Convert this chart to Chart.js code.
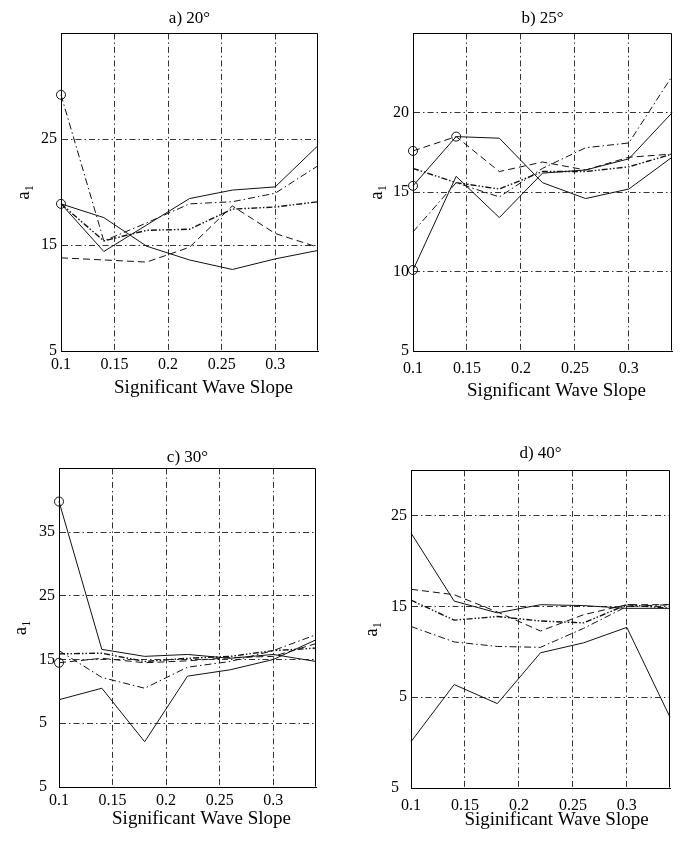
<!DOCTYPE html>
<html>
<head>
<meta charset="utf-8">
<script src="https://cdn.jsdelivr.net/npm/chart.js@4.4.1/dist/chart.umd.min.js"></script>
<style>
    html, body { margin: 0; padding: 0; background: #fff; }
    #wrap { position: relative; width: 683px; height: 842px; }
    .panel { position: absolute; width: 341px; height: 421px; }
</style>
</head>
<body>
<div id="wrap">
    <div class="panel" style="left:0;top:0"><canvas id="chartA" width="341" height="421"></canvas></div>
    <div class="panel" style="left:341px;top:0"><canvas id="chartB" width="341" height="421"></canvas></div>
    <div class="panel" style="left:0;top:421px"><canvas id="chartC" width="341" height="421"></canvas></div>
    <div class="panel" style="left:341px;top:421px"><canvas id="chartD" width="341" height="421"></canvas></div>
</div>
<script>
// x positions shared by every panel
const slopes = [0.1, 0.14, 0.18, 0.22, 0.26, 0.3, 0.34];
const xTicks = [0.1, 0.15, 0.2, 0.25, 0.3];
const xTickLabels = ['0.1', '0.15', '0.2', '0.25', '0.3'];

// a) 20 deg
const a20Solid1 = [18.9, 17.6, 14.9, 13.6, 12.7, 13.7, 14.5];
const a20Solid2 = [18.9, 14.4, 16.9, 19.4, 20.2, 20.5, 24.4];
const a20Dashed = [13.8, 13.6, 13.4, 14.8, 18.7, 16.1, 14.8];
const a20DashDot = [29.2, 15.4, 17.1, 18.9, 19.1, 19.9, 22.5];
const a20DashDot2 = [18.9, 15.4, 16.4, 16.5, 18.4, 18.6, 19.1];
const a20YTicks = [5, 15, 25];
const a20YTickLabels = ['5', '15', '25'];

// b) 25 deg
const b25Solid1 = [10.1, 16.0, 13.4, 16.2, 16.4, 17.1, 20.0];
const b25Solid2 = [15.4, 18.5, 18.4, 15.6, 14.6, 15.2, 17.2];
const b25Dashed = [17.6, 18.5, 16.3, 16.9, 16.4, 17.2, 17.4];
const b25DashDot = [12.5, 15.6, 14.7, 16.5, 17.8, 18.1, 22.3];
const b25DashDot2 = [16.5, 15.6, 15.2, 16.3, 16.3, 16.6, 17.4];
const b25YTicks = [5, 10, 15, 20];
const b25YTickLabels = ['5', '10', '15', '20'];

// c) 30 deg (the bottom tick is printed as "5", its minus sign is lost in the original)
const c30Solid1 = [39.8, 16.6, 15.5, 15.8, 15.2, 15.8, 14.7];
const c30Solid2 = [8.7, 10.5, 2.1, 12.4, 13.4, 15.0, 18.1];
const c30Dashed = [14.5, 15.2, 14.5, 14.8, 15.3, 15.5, 17.5];
const c30DashDot = [16.4, 12.2, 10.5, 13.8, 14.7, 16.4, 18.9];
const c30DashDot2 = [15.9, 16.0, 14.7, 15.2, 15.5, 16.4, 16.8];
const c30YTicks = [-5, 5, 15, 25, 35];
const c30YTickLabels = ['5\u2002', '5\u2002', '15', '25', '35'];

// d) 40 deg
const d40Solid1 = [23.1, 15.6, 14.3, 15.2, 15.1, 14.8, 14.8];
const d40Solid2 = [0.1, 6.4, 4.3, 9.9, 11.0, 12.7, 2.8];
const d40Dashed = [16.9, 16.3, 14.4, 12.3, 14.1, 15.2, 15.2];
const d40DashDot = [12.8, 11.1, 10.6, 10.5, 12.6, 15.0, 15.2];
const d40DashDot2 = [15.7, 13.5, 13.9, 13.4, 13.2, 15.2, 14.8];
const d40YTicks = [-5, 5, 15, 25];
const d40YTickLabels = ['5\u2002', '5', '15', '25'];

const serif = '"Liberation Serif", "Times New Roman", serif';

const lineStyles = {
    solid: { dash: [], width: 1 },
    dashed: { dash: [7, 4], width: 1 },
    dashdot: { dash: [7, 3, 1.5, 3], width: 1 },
    dashdot2: { dash: [6, 2, 1.5, 2, 1.5, 2], width: 1.4 },
};

// x label under the plot, a bit right of centre like the original
const xLabelPlugin = {
    id: 'xLabel',
    afterDraw(chart, args, opts) {
        const { ctx, chartArea } = chart;
        ctx.save();
        ctx.font = '19px ' + serif;
        ctx.fillStyle = '#000';
        ctx.textAlign = 'center';
        ctx.textBaseline = 'middle';
        ctx.fillText(opts.text, (chartArea.left + chartArea.right) / 2 + opts.dx, chartArea.bottom + opts.dy);
        ctx.restore();
    }
};

// top and right edges of the box
const framePlugin = {
    id: 'frame',
    afterDraw(chart) {
        const { ctx, chartArea } = chart;
        const l = Math.round(chartArea.left) + 0.5, r = Math.round(chartArea.right) - 0.5;
        const t = Math.round(chartArea.top) + 0.5, b = Math.round(chartArea.bottom) - 0.5;
        ctx.save();
        ctx.strokeStyle = '#000';
        ctx.lineWidth = 1;
        ctx.beginPath();
        ctx.moveTo(l, t);
        ctx.lineTo(r, t);
        ctx.lineTo(r, b);
        ctx.stroke();
        ctx.restore();
    }
};

window.panel = (id, p) => {
    const datasets = p.series.map(s => {
        const st = lineStyles[s.style];
        const marks = s.marks || [];
        return {
            data: slopes.map((x, i) => ({ x: x, y: s.values[i] })),
            borderColor: '#111',
            borderWidth: st.width,
            borderDash: st.dash,
            fill: false,
            tension: 0,
            clip: false,
            pointStyle: 'circle',
            pointRadius: slopes.map((x, i) => marks.includes(i) ? 4.5 : 0),
            pointBorderWidth: 1,
            pointBorderColor: '#111',
            pointBackgroundColor: 'rgba(0,0,0,0)',
        };
    });

    new Chart(document.getElementById(id).getContext('2d'), {
        type: 'line',
        data: { datasets: datasets },
        options: {
            responsive: false,
            devicePixelRatio: 1,
            animation: false,
            layout: { padding: { left: 0, right: p.right, top: 0, bottom: 0 } },
            plugins: {
                legend: { display: false },
                tooltip: { enabled: false },
                title: {
                    display: true,
                    text: p.title,
                    fullSize: false,
                    color: '#000',
                    font: { family: serif, size: 17, weight: 'normal' },
                    padding: { top: p.titleTop, bottom: p.titleBottom },
                },
                xLabel: { text: p.xLabel, dx: p.xLabelDx, dy: p.xLabelDy },
            },
            scales: {
                x: {
                    type: 'linear',
                    min: 0.1,
                    max: 0.34,
                    afterBuildTicks: s => { s.ticks = xTicks.map(v => ({ value: v })); },
                    afterFit: s => { s.height = p.xHeight; },
                    ticks: {
                        autoSkip: false,
                        maxRotation: 0,
                        color: '#000',
                        padding: p.xTickPad,
                        font: { family: serif, size: 16 },
                        callback: (value, index) => xTickLabels[index],
                    },
                    grid: { color: '#333', lineWidth: 1, drawTicks: false },
                    border: { display: true, color: '#000', width: 1, dash: [6, 3, 1.5, 3] },
                },
                y: {
                    type: 'linear',
                    min: p.yMin,
                    max: p.yMax,
                    afterBuildTicks: s => { s.ticks = p.yTicks.map(v => ({ value: v })); },
                    afterFit: s => { s.width = p.yWidth; },
                    ticks: {
                        autoSkip: false,
                        color: '#000',
                        padding: 4,
                        font: { family: serif, size: 16 },
                        callback: (value, index) => p.yTickLabels[index],
                    },
                    grid: { color: '#333', lineWidth: 1, drawTicks: false },
                    border: { display: true, color: '#000', width: 1, dash: [6, 3, 1.5, 3] },
                    title: {
                        display: true,
                        text: 'a\u2081',
                        color: '#000',
                        font: { family: serif, size: 19 },
                        padding: { top: p.yTitlePad, bottom: 0 },
                    },
                },
            },
        },
        plugins: [xLabelPlugin, framePlugin],
    });
}

panel('chartA', {
    title: 'a) 20\u00b0', titleTop: 8, titleBottom: 5, right: 23,
    xHeight: 70, xTickPad: 4, yWidth: 61, yTitlePad: 13,
    yMin: 5, yMax: 35, yTicks: a20YTicks, yTickLabels: a20YTickLabels,
    xLabel: 'Significant Wave Slope', xLabelDx: 14, xLabelDy: 37,
    series: [
        { values: a20Solid1, style: 'solid', marks: [0] },
        { values: a20Solid2, style: 'solid' },
        { values: a20Dashed, style: 'dashed' },
        { values: a20DashDot, style: 'dashdot', marks: [0] },
        { values: a20DashDot2, style: 'dashdot2' },
    ],
});

panel('chartB', {
    title: 'b) 25\u00b0', titleTop: 8, titleBottom: 5, right: 10,
    xHeight: 70, xTickPad: 8, yWidth: 72, yTitlePad: 25,
    yMin: 5, yMax: 25, yTicks: b25YTicks, yTickLabels: b25YTickLabels,
    xLabel: 'Significant Wave Slope', xLabelDx: 14, xLabelDy: 40,
    series: [
        { values: b25Solid1, style: 'solid', marks: [0] },
        { values: b25Solid2, style: 'solid', marks: [0] },
        { values: b25Dashed, style: 'dashed', marks: [0, 1] },
        { values: b25DashDot, style: 'dashdot' },
        { values: b25DashDot2, style: 'dashdot2' },
    ],
});

panel('chartC', {
    title: 'c) 30\u00b0', titleTop: 26, titleBottom: 1, right: 25,
    xHeight: 55, xTickPad: 4, yWidth: 59, yTitlePad: 10,
    yMin: -5, yMax: 45, yTicks: c30YTicks, yTickLabels: c30YTickLabels,
    xLabel: 'Significant Wave Slope', xLabelDx: 14, xLabelDy: 32,
    series: [
        { values: c30Solid1, style: 'solid', marks: [0] },
        { values: c30Solid2, style: 'solid' },
        { values: c30Dashed, style: 'dashed', marks: [0] },
        { values: c30DashDot, style: 'dashdot' },
        { values: c30DashDot2, style: 'dashdot2' },
    ],
});

panel('chartD', {
    title: 'd) 40\u00b0', titleTop: 22, titleBottom: 7, right: 12,
    xHeight: 54, xTickPad: 8, yWidth: 70, yTitlePad: 20,
    yMin: -5, yMax: 30, yTicks: d40YTicks, yTickLabels: d40YTickLabels,
    xLabel: 'Siginificant Wave Slope', xLabelDx: 16, xLabelDy: 32,
    series: [
        { values: d40Solid1, style: 'solid' },
        { values: d40Solid2, style: 'solid' },
        { values: d40Dashed, style: 'dashed' },
        { values: d40DashDot, style: 'dashdot' },
        { values: d40DashDot2, style: 'dashdot2' },
    ],
});
</script>
</body>
</html>
